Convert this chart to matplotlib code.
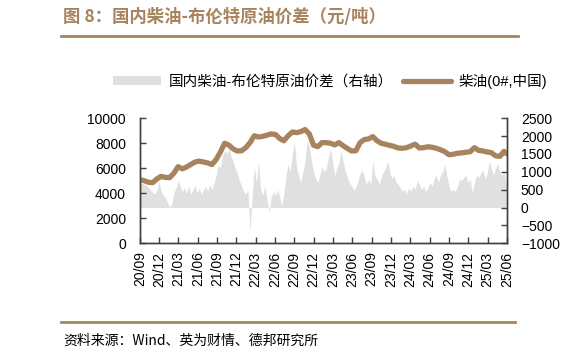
import numpy as np
import pandas as pd
import matplotlib
matplotlib.use("Agg")
import matplotlib.pyplot as plt
import matplotlib.dates as mdates
from matplotlib.lines import Line2D

plt.rcParams['font.family'] = ['Liberation Sans', 'Noto Sans CJK SC', 'DejaVu Sans']

# 国内柴油-布伦特原油价差 (右轴), sampled every 10 days from 2020-09-01
spread = [700, 680, 650, 620, 560, 480, 420, 380, 500, 720,
          450, 350, 280, 150, 0, 100, 400, 550, 770, 600,
          450, 550, 400, 600, 380, 500, 620, 420, 550, 380,
          500, 600, 450, 650, 500, 700, 900, 1200, 1100, 1450,
          1600, 1500, 1650, 1450, 1300, 1100, 950, 750, 600, 450,
          380, 500, -700, 300, 1150, 700, 1300, 500, 350, 600,
          250, -150, 300, 450, 350, 500, 300, 50, 400, 900,
          1200, 1000, 1500, 1850, 1100, 900, 700, 1000, 1300, 1900,
          1700, 1300, 1000, 800, 700, 900, 1150, 1000, 1100, 1400,
          1650, 1300, 900, 1100, 1250, 1600, 1300, 1000, 850, 700,
          600, 500, 560, 750, 950, 1050, 850, 650, 800, 650,
          1300, 900, 800, 650, 850, 1000, 1100, 1300, 1000, 800,
          900, 700, 650, 550, 450, 500, 400, 550, 450, 600,
          500, 750, 650, 500, 600, 450, 550, 700, 600, 800,
          900, 700, 900, 1000, 1200, 900, 600, 450, 500, 450,
          600, 800, 750, 850, 900, 700, 800, 400, 700, 900,
          850, 950, 1050, 800, 950, 1300, 1100, 900, 1100, 1250,
          1000, 900, 1000, 600]
spread_dates = pd.date_range("2020-09-01", periods=len(spread), freq="10D")

# 柴油(0#,中国), sampled every 20 days from 2020-09-01
diesel = [5100, 5000, 4880, 4850, 5150, 5350, 5270, 5250, 5600, 6130,
          5950, 6100, 6300, 6500, 6580, 6500, 6430, 6300, 6700, 7300,
          8000, 7850, 7550, 7380, 7400, 7650, 8050, 8600, 8500, 8550,
          8650, 8750, 8700, 8380, 8200, 8600, 8900, 8850, 8930, 9100,
          8750, 7850, 7730, 8050, 8050, 8000, 7870, 8050, 7800, 7580,
          7380, 7400, 8050, 8300, 8350, 8530, 8200, 8000, 7920, 7830,
          7750, 7620, 7600, 7650, 7780, 7930, 7620, 7650, 7720, 7680,
          7600, 7480, 7330, 7080, 7120, 7200, 7230, 7280, 7320, 7650,
          7430, 7380, 7300, 7250, 7000, 6950, 7350, 7100]
diesel_dates = pd.date_range("2020-09-01", periods=len(diesel), freq="20D")

brown = '#A8845E'
grey = '#E0E0E0'
axis_col = '#404040'

fig = plt.figure(figsize=(5.82, 3.62), dpi=100)
ax = fig.add_axes([0.2405, 0.328, 0.6306, 0.3453])
ax2 = ax.twinx()

ax2.fill_between(spread_dates, 0, spread, color=grey, lw=0)
ax2.set_ylim(-1000, 2500)
ax2.set_yticks(np.arange(-1000, 2501, 500))

ln, = ax.plot(diesel_dates, diesel, color=brown, lw=3.8, solid_capstyle='round')
ax.set_ylim(0, 10000)
ax.set_yticks(np.arange(0, 10001, 2000))
ax.set_zorder(ax2.get_zorder() + 1)
ax.patch.set_visible(False)

ax.set_xlim(pd.Timestamp("2020-09-01"), pd.Timestamp("2025-06-01"))
ax.xaxis.set_major_locator(mdates.MonthLocator(bymonth=[3, 6, 9, 12]))
ax.xaxis.set_major_formatter(mdates.DateFormatter("%y/%m"))
plt.setp(ax.get_xticklabels(), rotation=90)

for a in (ax, ax2):
    a.spines['top'].set_visible(False)
    for s in ('left', 'right', 'bottom'):
        a.spines[s].set_color(axis_col)
        a.spines[s].set_linewidth(1.0)
    a.tick_params(direction='in', length=4, width=1, color=axis_col, labelsize=10, labelcolor='black')
ax.tick_params(axis='y', pad=10)
ax.tick_params(axis='x', pad=6)
ax2.tick_params(axis='y', pad=10)

handles = [plt.Rectangle((0, 0), 1, 1, color=grey, lw=0), ln]
labels = ['国内柴油-布伦特原油价差（右轴）', '柴油(0#,中国)']
fig.legend(handles, labels, loc='center left', bbox_to_anchor=(0.172, 0.776), ncol=2,
           frameon=False, handlelength=3.3, handleheight=0.55, handletextpad=0.5, columnspacing=0.7,
           prop={'family': ['Liberation Sans', 'Noto Sans CJK SC'], 'size': 10.5})

fig.text(0.108, 0.953, '图 8：国内柴油-布伦特原油价差（元/吨）', color=brown, fontsize=12.5,
         fontweight='bold', va='center', ha='left', family=['Noto Sans CJK SC', 'DejaVu Sans'])
fig.add_artist(Line2D([0.105, 0.89], [0.9, 0.9], color=brown, lw=2))
fig.add_artist(Line2D([0.105, 0.885], [0.11, 0.11], color=brown, lw=2))
fig.text(0.108, 0.06, '资料来源：Wind、英为财情、德邦研究所', color='black', fontsize=10,
         va='center', ha='left', family=['Noto Sans CJK SC', 'DejaVu Sans'])

fig.savefig("out.png", dpi=100)
